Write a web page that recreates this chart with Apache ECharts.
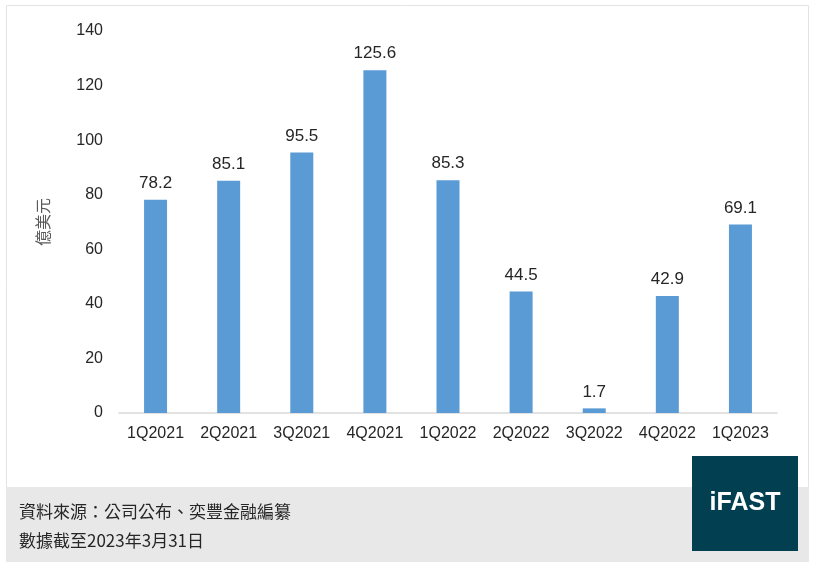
<!DOCTYPE html>
<html>
<head>
<meta charset="utf-8">
<script src="https://cdn.jsdelivr.net/npm/echarts@6/dist/echarts.min.js"></script>
<style>
html, body { margin: 0; padding: 0; background: #fff; }
#chart { width: 816px; height: 571px; }
</style>
</head>
<body>
<div id="chart"></div>
<script>
var quarters = ["1Q2021", "2Q2021", "3Q2021", "4Q2021", "1Q2022", "2Q2022", "3Q2022", "4Q2022", "1Q2023"];
var amounts = [78.2, 85.1, 95.5, 125.6, 85.3, 44.5, 1.7, 42.9, 69.1];
var unitName = "億美元";
var sourceNote = "資料來源：公司公布、奕豐金融編纂";
var dateNote = "數據截至2023年3月31日";

var font = "'Liberation Sans', Arial, 'Noto Sans CJK TC', sans-serif";
var cjkFont = "'Noto Sans CJK TC', sans-serif";
var chart = echarts.init(document.getElementById("chart"));
chart.setOption({
    animation: false,
    textStyle: { fontFamily: font },
    grid: { left: 119, right: 39, top: 31, bottom: 158 },
    xAxis: {
        type: "category",
        data: quarters,
        axisLine: { lineStyle: { color: "#d9d9d9", width: 1.5 } },
        axisTick: { show: false },
        axisLabel: { interval: 0, color: "#262626", fontSize: 16, margin: 13, fontFamily: font }
    },
    yAxis: {
        type: "value",
        min: 0, max: 140, interval: 20,
        name: unitName,
        nameLocation: "middle",
        nameGap: 68,
        nameRotate: 90,
        nameTextStyle: { color: "#595959", fontSize: 16, fontFamily: cjkFont },
        axisLine: { show: false },
        axisTick: { show: false },
        splitLine: { show: false },
        axisLabel: { color: "#262626", fontSize: 16, margin: 16, fontFamily: font }
    },
    series: [{
        type: "bar",
        data: amounts,
        barWidth: 23,
        itemStyle: { color: "#5b9bd5" },
        label: { show: true, position: "top", distance: 8, color: "#262626", fontSize: 17, fontFamily: font }
    }],
    graphic: [
        { type: "rect", z: -10, shape: { x: 6.5, y: 5.5, width: 802, height: 556 },
          style: { fill: "#fff", stroke: "#e3e3e3", lineWidth: 1 } },
        { type: "rect", z: -9, shape: { x: 6, y: 487, width: 803, height: 75 },
          style: { fill: "#e8e8e8" } },
        { type: "text", x: 19, y: 512, style: { text: sourceNote, fill: "#262626", font: "17px " + cjkFont, verticalAlign: "middle" } },
        { type: "text", x: 19, y: 541, style: { text: dateNote, fill: "#262626", font: "17px " + cjkFont, verticalAlign: "middle" } },
        { type: "rect", shape: { x: 692, y: 456, width: 106, height: 95 },
          style: { fill: "#023f50" } },
        { type: "text", x: 745, y: 503, style: { text: "iFAST", fill: "#fff", font: "bold 25px 'Liberation Sans'", align: "center", verticalAlign: "middle" } }
    ]
});
</script>
</body>
</html>
